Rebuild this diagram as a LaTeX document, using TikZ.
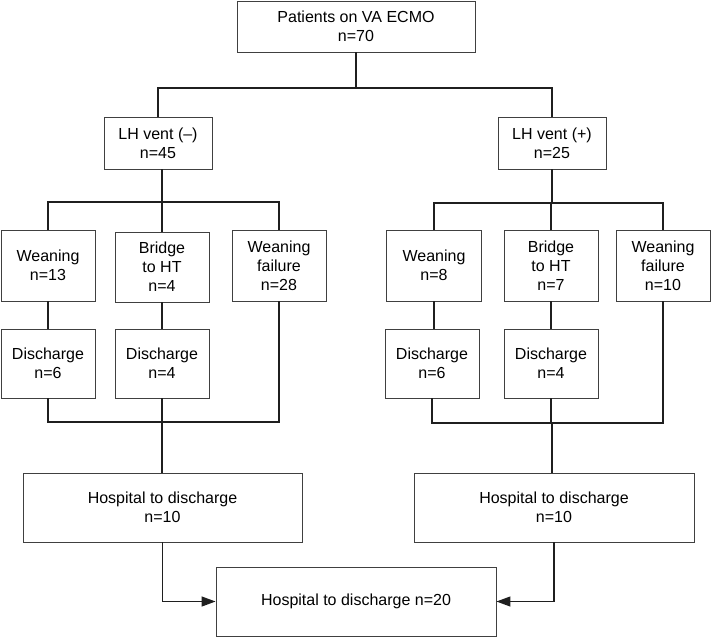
\documentclass[tikz,border=0pt]{standalone}
\usepackage{fontspec}
\setmainfont{Liberation Sans}
\usetikzlibrary{arrows.meta}
\begin{document}
\begin{tikzpicture}[x=1pt,y=-1pt,
 box/.style={draw=black!75, line width=0.9pt, fill=white, align=center, inner sep=0pt, font=\fontsize{16}{19}\selectfont},
 conn/.style={draw=black!88, line width=1.3pt},
 arr/.style={conn, -{Triangle[length=14pt,width=10pt]}}]
\useasboundingbox (0,0) rectangle (711,637);
% boxes
\node[box, minimum width=238pt, minimum height=51pt] (top) at (356,26.5) {Patients on VA ECMO\\n=70};
\node[box, minimum width=108pt, minimum height=52pt] (LHm) at (158,143) {LH vent (–)\\n=45};
\node[box, minimum width=108pt, minimum height=52pt] (LHp) at (552,143) {LH vent (+)\\n=25};
% left branch
\node[box, minimum width=94pt, minimum height=71pt] (W1) at (48,265.5) {Weaning\\n=13};
\node[box, minimum width=94pt, minimum height=70pt] (B1) at (162,267) {Bridge\\to HT\\n=4};
\node[box, minimum width=94pt, minimum height=71pt] (WF1) at (279,265.5) {Weaning\\failure\\n=28};
\node[box, minimum width=94pt, minimum height=69pt] (D1) at (48,363.5) {Discharge\\n=6};
\node[box, minimum width=94pt, minimum height=69pt] (D2) at (162,363.5) {Discharge\\n=4};
\node[box, minimum width=279pt, minimum height=69pt] (H1) at (162.5,507.5) {Hospital to discharge\\n=10};
% right branch
\node[box, minimum width=95pt, minimum height=71pt] (W2) at (434,265.5) {Weaning\\n=8};
\node[box, minimum width=94pt, minimum height=71pt] (B2) at (551,265.5) {Bridge\\to HT\\n=7};
\node[box, minimum width=94pt, minimum height=71pt] (WF2) at (663,265.5) {Weaning\\failure\\n=10};
\node[box, minimum width=94pt, minimum height=69pt] (D3) at (432,363.5) {Discharge\\n=6};
\node[box, minimum width=94pt, minimum height=69pt] (D4) at (551,363.5) {Discharge\\n=4};
\node[box, minimum width=280pt, minimum height=69pt] (H2) at (554,507.5) {Hospital to discharge\\n=10};
% bottom
\node[box, minimum width=280pt, minimum height=69pt] (HB) at (356,601.5) {Hospital to discharge n=20};
% connectors
\coordinate (j1) at (356,88);
\draw[conn] (top.south) -- (j1);
\draw[conn] (LHm.north) |- (j1) -| (LHp.north);
\coordinate (j2) at (162,202);
\draw[conn] (j2 |- LHm.south) -- (j2);
\draw[conn] (W1.north) |- (j2) -| (WF1.north);
\draw[conn] (B1.north) -- (j2);
\draw[conn] (W1.south) -- (D1.north);
\draw[conn] (B1.south) -- (D2.north);
\coordinate (j3) at (162,422);
\draw[conn] (D1.south) |- (j3) -| (WF1.south);
\draw[conn] (D2.south) -- (j3);
\draw[conn] (j3) -- (j3 |- H1.north);
\coordinate (j4) at (552,203);
\draw[conn] (LHp.south) -- (j4);
\draw[conn] (W2.north) |- (j4) -| (WF2.north);
\draw[conn] (B2.north) -- (B2.north |- j4);
\draw[conn] (W2.south) -- (W2.south |- D3.north);
\draw[conn] (B2.south) -- (D4.north);
\coordinate (j5) at (552,423);
\draw[conn] (D3.south) |- (j5) -| (WF2.south);
\draw[conn] (D4.south) -- (D4.south |- j5);
\draw[conn] (j5) -- (j5 |- H2.north);
\draw[arr] (H1.south) |- (HB.west);
\draw[arr] (H2.south) |- (HB.east);
\end{tikzpicture}
\end{document}
